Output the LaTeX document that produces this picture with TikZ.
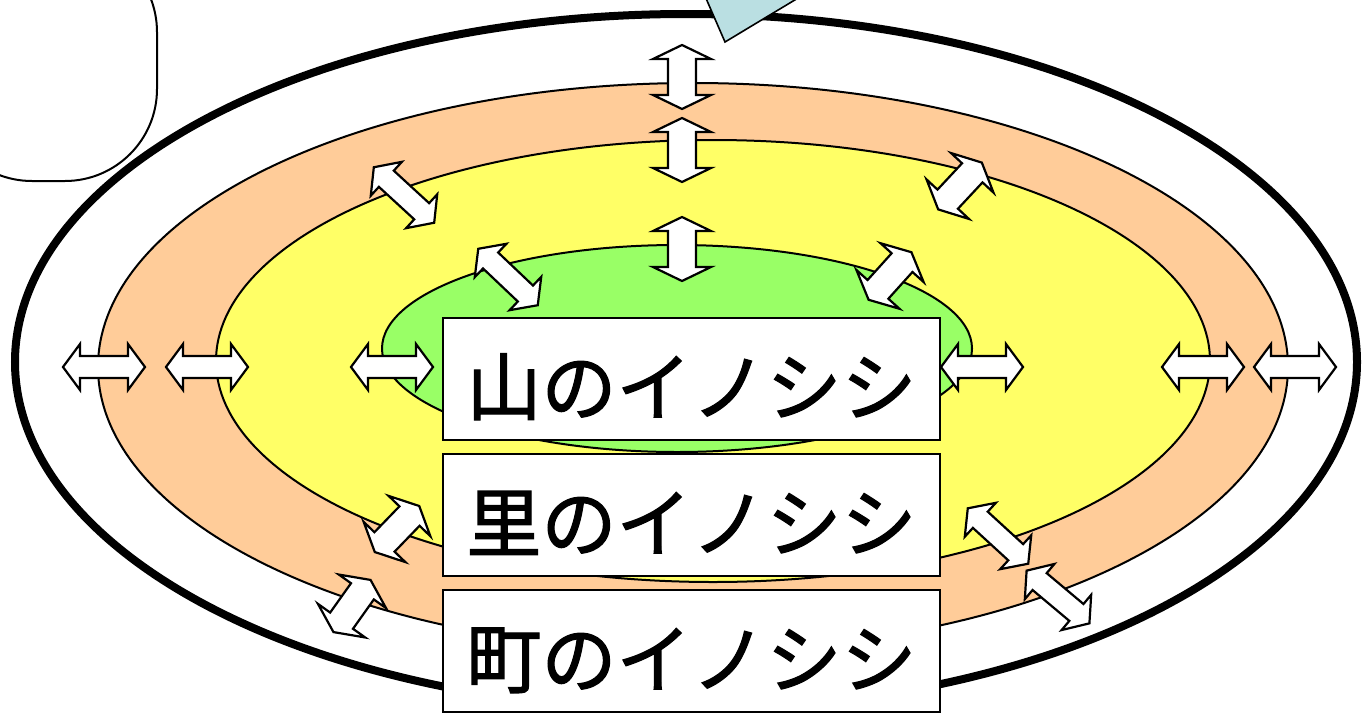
\documentclass[tikz,border=0pt]{standalone}
\usepackage{fontspec}
\newfontfamily\jpfont[FakeBold=1.6]{Noto Sans CJK JP}
\definecolor{orangefill}{HTML}{FFCC99}
\definecolor{yellowfill}{HTML}{FFFF66}
\definecolor{greenfill}{HTML}{99FF66}
\definecolor{bluefill}{HTML}{BADFE2}
\tikzset{
  ring/.style={draw=black, line width=1pt},
  arrowshape/.style={draw=black, fill=white, line width=1.1pt, line join=miter},
  labelbox/.style={draw=black, fill=white, line width=1.2pt, rectangle, inner sep=0pt,
    minimum width=248.5pt, minimum height=61pt, text height=36pt, text depth=0pt,
    font=\jpfont\fontsize{37.5pt}{40pt}\selectfont},
}
% #1 cx, #2 cy, #3 angle, #4 half length, #5 head half-width, #6 shaft half-width, #7 head length
\newcommand\dblarrowshape[7]{%
  \draw[arrowshape, shift={(#1,#2)}, rotate=#3]
    (-#4,0) -- ({-#4+#7},-#5) -- ({-#4+#7},-#6) -- ({#4-#7},-#6) -- ({#4-#7},-#5)
    -- (#4,0) -- ({#4-#7},#5) -- ({#4-#7},#6) -- ({-#4+#7},#6) -- ({-#4+#7},#5) -- cycle;}
\newcommand\harrow[3]{\dblarrowshape{#1}{#2}{#3}{41}{23}{11}{17}}
\newcommand\varrow[3]{\dblarrowshape{#1}{#2}{#3}{32}{29}{14}{14}}
\begin{document}
\begin{tikzpicture}[x=0.5pt,y=-0.5pt]
\useasboundingbox (0,0) rectangle (1364,712);
\clip (0,0) rectangle (1364,712);
% rings
\draw[line width=4pt, fill=white] (686,362) ellipse [x radius=335.5pt, y radius=174pt];
\draw[ring, fill=orangefill] (693,367) ellipse [x radius=297.5pt, y radius=142pt];
\draw[ring, fill=yellowfill] (713,361) ellipse [x radius=248.5pt, y radius=110.5pt];
\draw[ring, fill=greenfill] (677,348.5) ellipse [x radius=147.5pt, y radius=51.75pt];
% arrows
\varrow{682}{77}{90}
\varrow{682}{150}{90}
\varrow{682}{249}{90}
\harrow{104}{367}{0}
\harrow{207}{367}{0}
\harrow{392}{367}{0}
\harrow{982}{367}{0}
\harrow{1203}{367}{0}
\harrow{1295}{367}{0}
\harrow{404}{195}{-42.6}
\harrow{508}{277}{-43.5}
\varrow{960}{186}{47}
\varrow{890}{276}{48}
\varrow{397}{529}{46}
\varrow{352}{606}{54.6}
\harrow{998}{536}{-42.5}
\harrow{1058}{597}{-40}
% labels
\node[labelbox] (yama) at (691.5,379) {山のイノシシ};
\node[labelbox] (sato) at (691.5,515) {里のイノシシ};
\node[labelbox] (machi) at (691.5,651) {町のイノシシ};
% top-left rounded box
\draw[fill=white, line width=1pt, rounded corners=46pt] (-60,-60) -- (-60,181) -- (157,181) -- (157,-60) -- cycle;
% top callout pointer
\draw[fill=bluefill, line width=0.8pt] (698,-20) -- (725,42) -- (828,-20) -- cycle;
\end{tikzpicture}
\end{document}
